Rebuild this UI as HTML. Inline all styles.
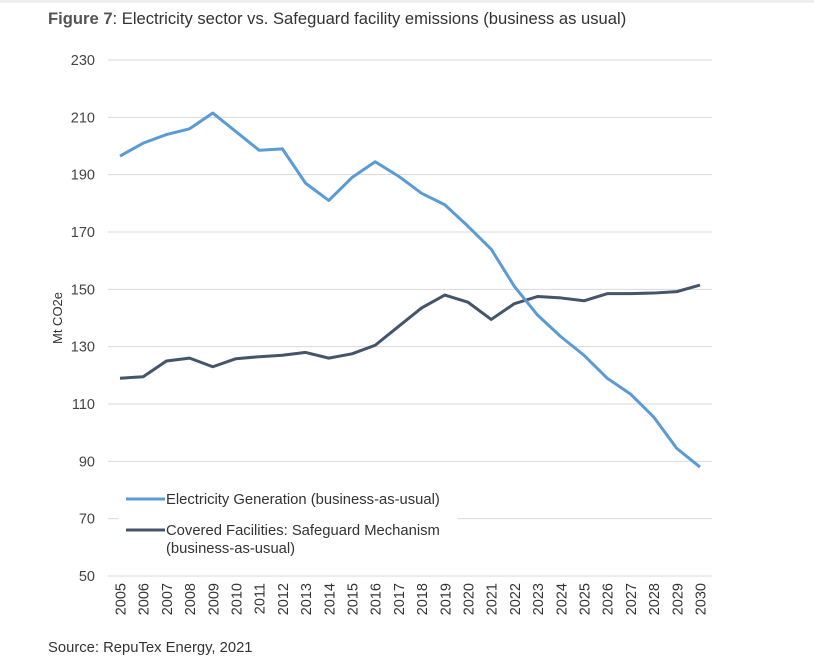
<!DOCTYPE html>
<html><head><meta charset="utf-8"><style>
body{margin:0;background:#fff;width:814px;height:663px;overflow:hidden;font-family:"Liberation Sans",Arial,sans-serif}
</style></head><body>
<svg width="814" height="663" id="svg" xmlns="http://www.w3.org/2000/svg" font-family="Liberation Sans, Arial, sans-serif">
<rect x="0" y="0" width="814" height="3" fill="#eeeeee"/>
<text x="48" y="24" font-size="16.6" fill="#333"><tspan font-weight="bold" fill="#555">Figure 7</tspan>: Electricity sector vs. Safeguard facility emissions (business as usual)</text>
<text transform="translate(62,318) rotate(-90)" text-anchor="middle" font-size="13" fill="#333">Mt CO2e</text>
<g id="grid"></g><g id="xt"></g><g id="lines"></g>
<rect x="118" y="488" width="340" height="72" fill="#fff"/>
<line x1="126" y1="499" x2="165" y2="499" stroke="#5b9bd5" stroke-width="3"/>
<text x="166" y="504" font-size="14.8" fill="#333">Electricity Generation (business-as-usual)</text>
<line x1="126" y1="530" x2="165" y2="530" stroke="#44546a" stroke-width="3"/>
<text x="166" y="535" font-size="14.8" fill="#333">Covered Facilities: Safeguard Mechanism</text>
<text x="166" y="553" font-size="14.8" fill="#333">(business-as-usual)</text>
<text x="48" y="652" font-size="14.8" fill="#333">Source: RepuTex Energy, 2021</text>
</svg>
<script>
const years=[2005,2006,2007,2008,2009,2010,2011,2012,2013,2014,2015,2016,2017,2018,2019,2020,2021,2022,2023,2024,2025,2026,2027,2028,2029,2030];
const electricity=[196.5,201,204,206,211.5,205,198.5,199,187,181,189,194.5,189.5,183.5,179.5,172,164,151,141,133.5,127,119,113.5,105.5,94.5,88];
const safeguard=[119,119.5,125,126,123,125.8,126.5,127,128,126,127.5,130.5,137,143.5,148,145.5,139.5,145,147.5,147,146,148.5,148.5,148.7,149.2,151.5];
const yTicks=[50,70,90,110,130,150,170,190,210,230];
const NS="http://www.w3.org/2000/svg";
const X0=120,X1=700,Y0=576,Y1=60,VMIN=50,VMAX=230;
const xs=i=>X0+(X1-X0)*i/(years.length-1);
const ys=v=>Y0-(v-VMIN)/(VMAX-VMIN)*(Y0-Y1);
const g=document.getElementById('grid'),xt=document.getElementById('xt'),L=document.getElementById('lines');
yTicks.forEach(t=>{
 const l=document.createElementNS(NS,'line');
 l.setAttribute('x1',108);l.setAttribute('x2',712);l.setAttribute('y1',ys(t));l.setAttribute('y2',ys(t));
 l.setAttribute('stroke','#d9d9d9');l.setAttribute('stroke-width','1');
 
 
 g.appendChild(l);
 const tx=document.createElementNS(NS,'text');
 tx.setAttribute('x',95);tx.setAttribute('y',ys(t)+5);tx.setAttribute('text-anchor','end');
 tx.setAttribute('font-size','14.5');tx.setAttribute('fill','#444');tx.textContent=t;
 
 
 g.appendChild(tx);
});
years.forEach((y,i)=>{
 const tx=document.createElementNS(NS,'text');
 tx.setAttribute('transform','translate('+(xs(i)+5.5)+',583) rotate(-90)');
 tx.setAttribute('text-anchor','end');tx.setAttribute('font-size','14.5');tx.setAttribute('fill','#333');
 tx.textContent=y;
 
 
 xt.appendChild(tx);
});
function line(arr,color,name){
 const p=document.createElementNS(NS,'polyline');
 p.setAttribute('points',arr.map((v,i)=>xs(i)+','+ys(v)).join(' '));
 p.setAttribute('fill','none');p.setAttribute('stroke',color);p.setAttribute('stroke-width','3');
 p.setAttribute('stroke-linejoin','round');
 
 
 L.appendChild(p);
}
line(safeguard,'#44546a','safeguard-line');
line(electricity,'#5b9bd5','electricity-line');
</script>
</body></html>
